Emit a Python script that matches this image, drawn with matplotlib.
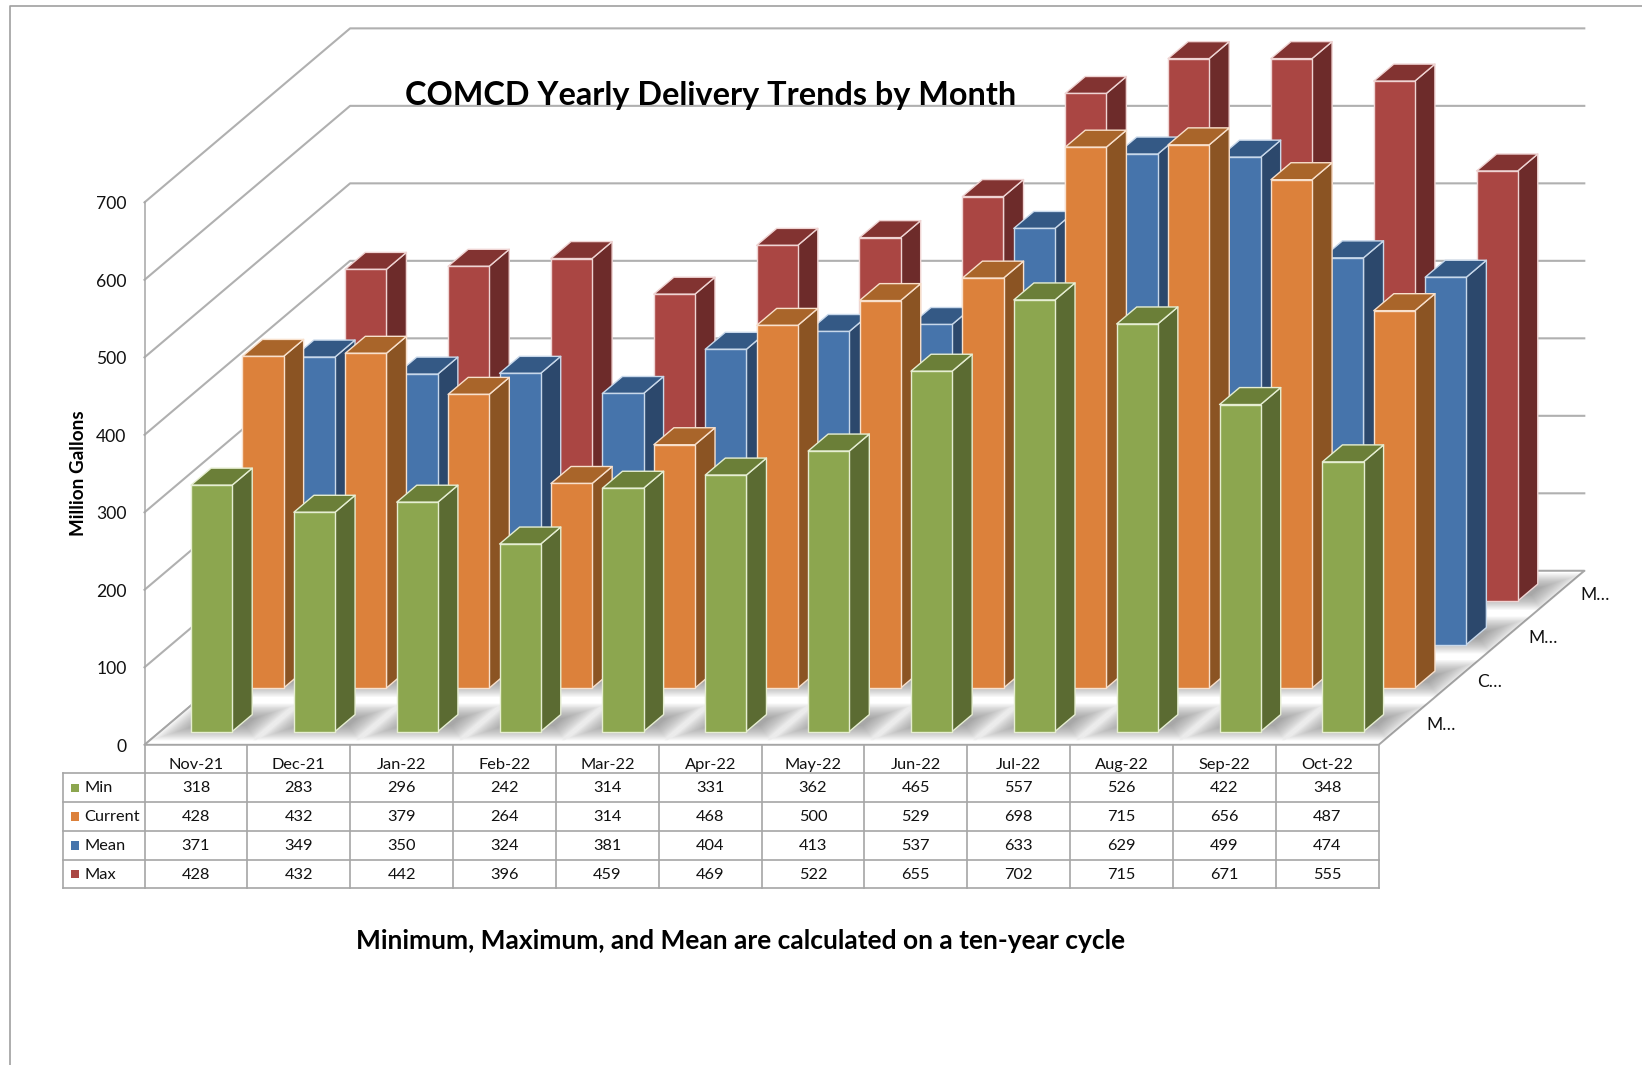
import numpy as np
import matplotlib
matplotlib.use("Agg")
import matplotlib.pyplot as plt
from matplotlib.patches import Polygon

plt.rcParams['font.family'] = ['Lato', 'DejaVu Sans']

months = ["Nov-21", "Dec-21", "Jan-22", "Feb-22", "Mar-22", "Apr-22", "May-22", "Jun-22", "Jul-22", "Aug-22", "Sep-22", "Oct-22"]
series_names = ["Min", "Current", "Mean", "Max"]
depth_labels = ["M…", "C…", "M…", "M…"]
y_ticks = [0, 100, 200, 300, 400, 500, 600, 700]

min_vals = [318, 283, 296, 242, 314, 331, 362, 465, 557, 526, 422, 348]
current_vals = [428, 432, 379, 264, 314, 468, 500, 529, 698, 715, 656, 487]
mean_vals = [371, 349, 350, 324, 381, 404, 413, 537, 633, 629, 499, 474]
max_vals = [428, 432, 442, 396, 459, 469, 522, 655, 702, 715, 671, 555]

# the tall bars stand lower in the picture than the table says
current_bars = [428, 432, 379, 264, 314, 468, 500, 529, 698, 701, 656, 487]
max_bars = [428, 432, 442, 396, 459, 469, 522, 655, 700, 700, 671, 555]

table_rows = [min_vals, current_vals, mean_vals, max_vals]
bar_rows = [min_vals, current_bars, mean_vals, max_bars]

front_cols = ["#8CA64F", "#DC813B", "#4674AB", "#AA4643"]
side_cols = ["#5B6B32", "#8B5423", "#2C486C", "#6D2B2A"]
top_cols = ["#6B7F38", "#A9652A", "#345985", "#823331"]
edge_cols = ["#E6EED2", "#F8E0CC", "#C8D8EA", "#EFD4D3"]
line_col = "#A6A6A6"
text_col = "#111111"

# projection of the 3d chart, in pixels of the figure
x0, y0 = 144.5, 744.8
cat_w = 102.85
slot_x, slot_y = 51.4, 43.5
px_per_unit = 0.7749
n_cat, n_ser = len(months), len(series_names)


def proj(c, s, v=0):
    return (x0 + cat_w * c + slot_x * s, y0 - slot_y * s - px_per_unit * v)


fig = plt.figure(figsize=(16.42, 10.65), dpi=100)
ax = fig.add_axes([0, 0, 1, 1])
ax.set_xlim(0, 1642)
ax.set_ylim(1065, 0)
ax.axis("off")

# outer frame
ax.plot([10.3, 10.3, 1642], [1065, 6, 6], color="#A0A0A0", lw=1.2, zorder=1)

# walls
for v in y_ticks:
    lw = 1.5 if v > 0 else 1.3
    ax.plot(*zip(proj(0, 0, v), proj(0, n_ser, v), proj(n_cat, n_ser, v)), color="#B0B0B0", lw=lw, zorder=1)
    ax.text(126.7, proj(0, 0, v)[1] + 2, str(v), ha="right", va="center", fontsize=12.6, color=text_col)
ax.plot(*zip(proj(0, 0, 0), proj(0, 0, 700)), color=line_col, lw=1.1, zorder=1)

# floor
floor = Polygon([proj(0, 0), proj(n_cat, 0), proj(n_cat, n_ser), proj(0, n_ser)], closed=True, facecolor="white", edgecolor="none", zorder=1.5)
ax.add_patch(floor)
ax.plot(*zip(proj(0, n_ser), proj(0, 0), proj(n_cat, 0), proj(n_cat, n_ser), proj(0, n_ser)), color=line_col, lw=1.4, zorder=1.6)

# soft shadows on the floor
for j in range(n_ser):
    for i in range(n_cat):
        c1, c2 = i + 0.14, i + 0.9
        s1, s2 = j + 0.27, j + 0.78
        for grow in np.linspace(0.17, -0.17, 18):
            pts = [proj(c1 - grow * 0.8, s1 - grow), proj(c2 + grow * 0.8, s1 - grow),
                   proj(c2 + grow * 0.8, s2 + grow), proj(c1 - grow * 0.8, s2 + grow)]
            sh = Polygon(pts, closed=True, facecolor="#606060", edgecolor="none", alpha=0.04, zorder=1.7)
            ax.add_patch(sh)
            sh.set_clip_path(floor)

# bars, back row first
zo = 2.0
for j in range(n_ser - 1, -1, -1):
    for i in range(n_cat):
        v = bar_rows[j][i]
        c1, c2 = i + 0.3, i + 0.7
        s1, s2 = j + 0.305, j + 0.695
        side = [proj(c2, s1), proj(c2, s2), proj(c2, s2, v), proj(c2, s1, v)]
        top = [proj(c1, s1, v), proj(c2, s1, v), proj(c2, s2, v), proj(c1, s2, v)]
        front = [proj(c1, s1), proj(c2, s1), proj(c2, s1, v), proj(c1, s1, v)]
        for pts, col in [(side, side_cols[j]), (top, top_cols[j]), (front, front_cols[j])]:
            ax.add_patch(Polygon(pts, closed=True, facecolor=col, edgecolor=edge_cols[j], lw=1.0, joinstyle="round", zorder=zo))
        zo += 0.001

# table
left_x = 63.3
row_tops = [773.3 + 28.76 * k for k in range(n_ser + 1)]
for yy in row_tops:
    ax.plot([left_x, x0 + cat_w * n_cat], [yy, yy], color=line_col, lw=1.2, zorder=5)
for k in range(n_cat + 1):
    xx = x0 + cat_w * k
    ax.plot([xx, xx], [y0, row_tops[-1]], color=line_col, lw=1.2, zorder=5)
ax.plot([left_x, left_x], [row_tops[0], row_tops[-1]], color=line_col, lw=1.2, zorder=5)

for i, m in enumerate(months):
    ax.text(x0 + cat_w * (i + 0.5), 765, m, ha="center", va="center", fontsize=11.8, color=text_col, zorder=6)
for j, name in enumerate(series_names):
    yy = row_tops[j] + 15.2
    ax.add_patch(Polygon([(71, yy - 4.8), (79.3, yy - 4.8), (79.3, yy + 3.6), (71, yy + 3.6)], closed=True, facecolor=front_cols[j], edgecolor="none", zorder=6))
    ax.text(84.3, yy, name, ha="left", va="center", fontsize=11.8, color=text_col, zorder=6)
    for i in range(n_cat):
        ax.text(x0 + cat_w * (i + 0.5), yy, str(table_rows[j][i]), ha="center", va="center", fontsize=11.8, color=text_col, zorder=6)

# series labels along the depth axis
for j, lab in enumerate(depth_labels):
    px, py = proj(n_cat, j + 0.5)
    ax.text(px + 21.5, py + 2, lab, ha="left", va="center", fontsize=12.6, color=text_col, zorder=6)

ax.text(79, 473, "Million Gallons", rotation=90, ha="center", va="center", fontsize=13.6, fontweight="bold", color="black", zorder=6)
ax.text(710.5, 95, "COMCD Yearly Delivery Trends by Month", ha="center", va="center", fontsize=23.3, fontweight="bold", color="black", zorder=7)
ax.text(741, 941, "Minimum, Maximum, and Mean are calculated on a ten-year cycle", ha="center", va="center", fontsize=19, fontweight="bold", color="black", zorder=7)

fig.savefig("out.png", dpi=100)
